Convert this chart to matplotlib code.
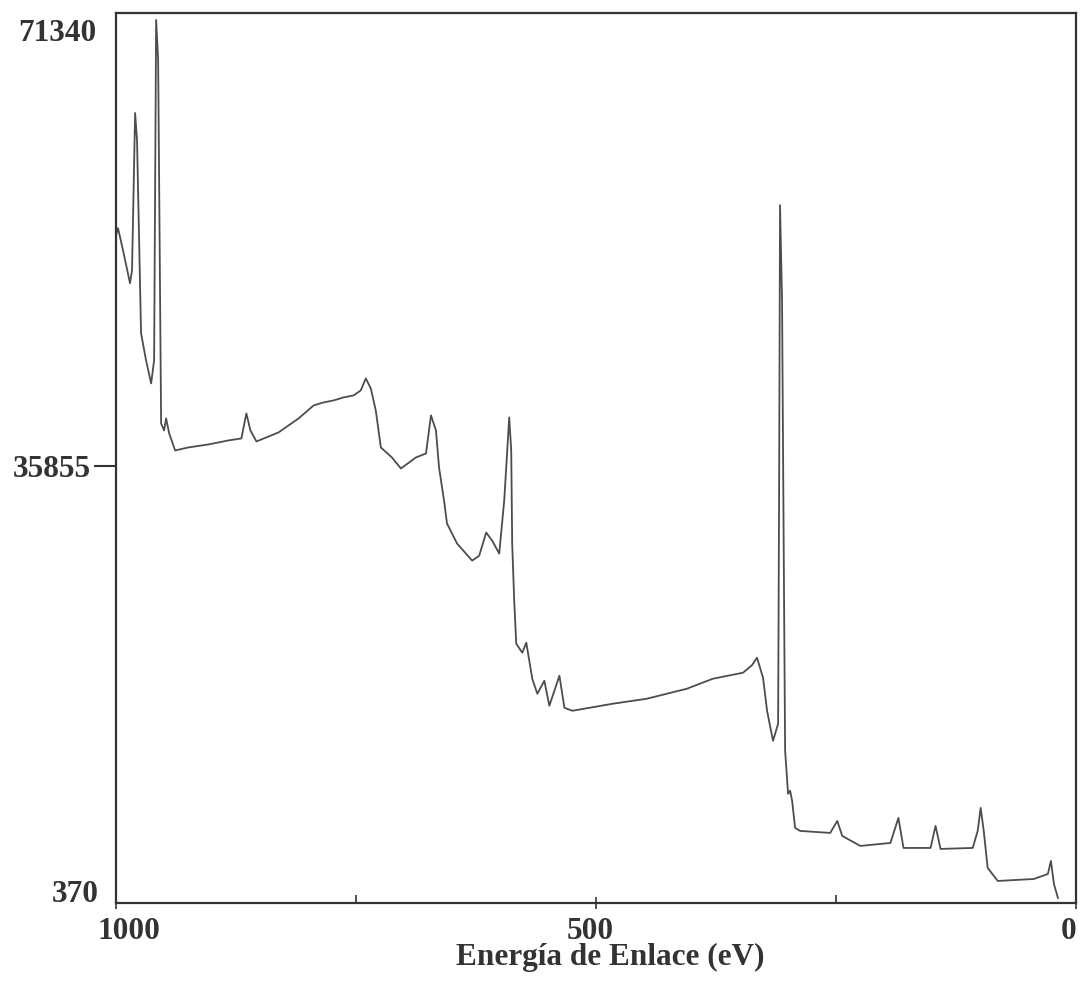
import numpy as np
import matplotlib
matplotlib.use("Agg")
import matplotlib.pyplot as plt
from matplotlib.transforms import ScaledTranslation

# espectro XPS: energia de enlace (eV) y cuentas
energia = [1000, 997.9, 992.7, 985.4, 983.3, 980.1, 978.1, 973.9, 968.7, 963.4,
           960.3, 958.2, 956.1, 953.0, 949.9, 947.8, 944.6, 938.4, 924.8, 903.9,
           883.0, 869.4, 864.2, 860.0, 853.7, 830.7, 809.8, 794.1, 783.7, 773.2,
           762.8, 752.4, 745.0, 739.8, 734.6, 729.4, 724.1, 712.6, 703.2, 687.6,
           677.1, 671.9, 666.7, 663.5, 658.3, 655.2, 644.7, 629.0, 621.7, 614.4,
           608.2, 600.8, 595.6, 590.4, 588.3, 587.3, 585.2, 583.1, 576.8, 572.6,
           566.4, 561.1, 553.8, 548.6, 538.1, 532.9, 524.6, 482.8, 447.2, 405.4,
           378.3, 346.9, 337.5, 332.3, 326.0, 321.8, 315.6, 310.3, 309.3, 308.3,
           306.2, 304.1, 303.0, 299.9, 297.8, 295.7, 292.6, 287.4, 256.0, 248.7,
           243.5, 224.7, 193.3, 185.0, 179.7, 151.5, 146.3, 141.1, 107.6, 102.4,
           99.3, 96.1, 92.0, 81.5, 43.9, 29.3, 26.1, 23.0, 18.8]
cuentas = [54657, 55227, 53436, 50750, 51808, 64587, 62389, 46680, 44483, 42611,
           44483, 72156, 68900, 39356, 38786, 39763, 38542, 37158, 37402, 37646,
           37972, 38135, 40170, 38786, 37890, 38623, 39763, 40821, 41065, 41228,
           41472, 41635, 42042, 43018, 42205, 40414, 37402, 36588, 35693, 36588,
           36914, 40007, 38786, 35774, 33088, 31216, 29588, 28205, 28600, 30483,
           29832, 28774, 33088, 39845, 37158, 29588, 24950, 21450, 20718, 21532,
           18601, 17380, 18438, 16404, 18845, 16241, 15997, 16567, 16974, 17787,
           18601, 19090, 19700, 20311, 18683, 15997, 13555, 14939, 33088, 57099,
           49360, 25000, 12741, 9242, 9500, 8672, 6474, 6230, 6067, 7044,
           5823, 5009, 5253, 7288, 4846, 4846, 6637, 4765, 4846, 6230,
           8102, 6230, 3219, 2161, 2323, 2730, 3788, 1916, 777]

yticks = [370, 35855, 71340]
xticks = [1000, 500, 0]
xminor = [750, 250]

fig = plt.figure(figsize=(10.84, 9.86), dpi=100)
ax = fig.add_axes([116 / 1084, 83 / 986, 960 / 1084, 890 / 986])

ax.plot(energia, cuentas, color="#4d4d4d", lw=1.3)

ax.set_xlim(1000, 0)
ax.set_ylim(370, 72720)

fuente = dict(family="Liberation Serif", weight="bold", size=22.5)

ax.set_xticks(xticks)
ax.set_xticks(xminor, minor=True)
ax.set_xticklabels([str(v) for v in xticks], **fuente, color="#333333")
ax.set_yticks(yticks)
ax.set_yticklabels([str(v) for v in yticks], **fuente, color="#333333")

ax.tick_params(axis="x", which="major", direction="inout", length=8, width=1.2,
               pad=6, color="#333333")
ax.tick_params(axis="x", which="minor", direction="in", length=6, width=1.2,
               color="#333333")
ax.tick_params(axis="y", direction="out", length=16, width=1.5, pad=2,
               color="#333333")
ytk = ax.yaxis.get_major_ticks()
ytk[0].tick1line.set_visible(False)
ytk[2].tick1line.set_visible(False)

# pequenos desplazamientos de algunas etiquetas
def mover(t, dx, dy):
    t.set_transform(t.get_transform() + ScaledTranslation(dx / 100, dy / 100, fig.dpi_scale_trans))

lx = ax.get_xticklabels()
mover(lx[0], 13, 0)
mover(lx[1], -6, 0)
mover(lx[2], -7, 0)
ly = ax.get_yticklabels()
mover(ly[0], 8, 12)
mover(ly[2], 5, 0)

ax.set_xlabel("Energía de Enlace (eV)", **fuente, color="#333333")
ax.xaxis.set_label_coords(0.515, -0.045)

for s in ax.spines.values():
    s.set_linewidth(1.6)
    s.set_color("#333333")

fig.savefig("out.png", dpi=100)
